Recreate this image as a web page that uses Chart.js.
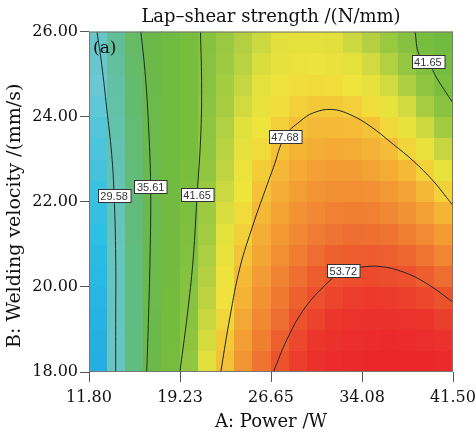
<!DOCTYPE html>
<html>
<head>
<meta charset="utf-8">
<script src="https://cdn.jsdelivr.net/npm/chart.js@4.4.1/dist/chart.umd.min.js"></script>
<style>
html, body { margin: 0; padding: 0; background: #fff; }
#wrap { width: 476px; height: 434px; }
</style>
</head>
<body>
<div id="wrap"><canvas id="chart"></canvas></div>
<script>
// axis ticks
const powerTicks = [11.80, 19.23, 26.65, 34.08, 41.50];
const velocityTicks = [18, 20, 22, 24, 26];

// heat map cell centres (A: power, B: velocity)
const powerCells = [12.54, 14.03, 15.51, 17.00, 18.48, 19.97, 21.45, 22.94, 24.43, 25.91,
                    27.40, 28.88, 30.37, 31.85, 33.34, 34.83, 36.31, 37.80, 39.28, 40.76];
const velocityCells = [18.25, 18.75, 19.25, 19.75, 20.25, 20.75, 21.25, 21.75,
                       22.25, 22.75, 23.25, 23.75, 24.25, 24.75, 25.25, 25.75];

// lap-shear strength, one row per velocity (bottom to top)
const strength = [
  [26.2,30.0,33.6,36.9,40.0,42.9,45.5,47.9,50.1,52.0,53.6,55.0,56.2,57.1,57.8,58.2,58.4,58.4,58.1,57.5],
  [26.3,30.0,33.6,36.8,39.9,42.7,45.2,47.5,49.6,51.4,53.0,54.3,55.4,56.2,56.8,57.2,57.3,57.2,56.8,56.2],
  [26.4,30.1,33.5,36.8,39.7,42.4,44.9,47.1,49.1,50.8,52.3,53.6,54.6,55.4,55.9,56.2,56.2,56.0,55.6,54.9],
  [26.6,30.2,33.5,36.7,39.5,42.2,44.6,46.7,48.6,50.3,51.7,52.9,53.8,54.5,55.0,55.2,55.1,54.8,54.3,53.6],
  [26.8,30.3,33.6,36.6,39.4,42.0,44.3,46.4,48.2,49.8,51.1,52.2,53.1,53.7,54.0,54.2,54.0,53.7,53.1,52.3],
  [26.9,30.4,33.6,36.6,39.3,41.8,44.0,46.0,47.7,49.2,50.5,51.5,52.3,52.9,53.1,53.2,53.0,52.6,51.9,51.0],
  [27.2,30.5,33.7,36.5,39.2,41.6,43.7,45.7,47.3,48.8,49.9,50.9,51.6,52.0,52.3,52.2,52.0,51.4,50.7,49.7],
  [27.4,30.7,33.7,36.5,39.1,41.4,43.5,45.3,46.9,48.3,49.4,50.3,50.9,51.3,51.4,51.3,50.9,50.3,49.5,48.4],
  [27.6,30.8,33.8,36.5,39.0,41.3,43.3,45.0,46.5,47.8,48.8,49.6,50.2,50.5,50.5,50.4,49.9,49.3,48.3,47.2],
  [27.9,31.0,33.9,36.5,38.9,41.1,43.0,44.7,46.2,47.4,48.3,49.0,49.5,49.7,49.7,49.4,48.9,48.2,47.2,46.0],
  [28.1,31.2,34.0,36.6,38.9,41.0,42.8,44.5,45.8,46.9,47.8,48.4,48.8,49.0,48.9,48.5,48.0,47.1,46.1,44.8],
  [28.4,31.4,34.1,36.6,38.9,40.9,42.7,44.2,45.5,46.5,47.3,47.9,48.2,48.2,48.1,47.7,47.0,46.1,45.0,43.6],
  [28.7,31.6,34.3,36.7,38.9,40.8,42.5,43.9,45.1,46.1,46.8,47.3,47.5,47.5,47.3,46.8,46.0,45.1,43.8,42.4],
  [29.0,31.8,34.4,36.8,38.9,40.7,42.3,43.7,44.8,45.7,46.4,46.8,46.9,46.8,46.5,45.9,45.1,44.1,42.8,41.2],
  [29.3,32.1,34.6,36.9,38.9,40.7,42.2,43.5,44.5,45.3,45.9,46.2,46.3,46.1,45.7,45.1,44.2,43.1,41.7,40.1],
  [29.7,32.4,34.8,37.0,38.9,40.6,42.1,43.3,44.3,45.0,45.5,45.7,45.7,45.5,45.0,44.3,43.3,42.1,40.6,39.0]
];

// contour lines [power, velocity]
const contour2958 = [[12.45,26],[12.84,25.22],[13.24,24.21],[13.65,23.12],[13.85,22.15],[13.98,20.70],[13.98,19.14],[13.98,18.0]];
const contour3561 = [[16.03,26],[16.37,25.06],[16.64,23.89],[16.83,22.36],[16.78,20.70],[16.64,19.14],[16.51,18.0]];
const contour4165a = [[20.90,26],[20.99,24.67],[20.91,23.50],[20.62,22.16],[20.31,20.70],[19.90,19.53],[19.22,18.0]];
const contour4768 = [[22.55,18.0],[23.30,19.29],[24.12,20.46],[25.21,21.48],[26.16,22.26],[26.84,22.80],[27.79,23.54],
                     [29.02,23.89],[30.10,24.09],[31.60,24.17],[33.10,24.05],[34.73,23.78],[36.63,23.35],[38.26,22.96],
                     [39.89,22.49],[40.98,22.10],[41.5,21.91]];
const contour5372 = [[26.84,18.0],[27.93,18.75],[29.28,19.45],[30.92,20.00],[32.55,20.38],[33.91,20.46],[35.54,20.48],
                     [37.44,20.35],[39.35,20.08],[41.5,19.64]];
const contour4165b = [[38.40,26],[38.73,25.46],[39.45,25.30],[40.17,24.91],[41.5,24.32]];

const contourLabels = ['29.58', '35.61', '41.65', '47.68', '53.72', '41.65'];
const labelAt = [4, 3, 3, 6, 4, 2];

// colour ramp: value -> rgb
const ramp = [
  [24, 45,115,195], [25.5, 35,160,220], [27, 40,190,230], [29, 105,200,210], [31, 100,195,180],
  [33, 95,188,140], [35.5, 105,186,85], [38, 110,185,65], [41, 120,190,62], [43, 145,198,65],
  [44.5, 185,210,66], [45.5, 225,224,61], [46.6, 240,228,60], [47.7, 245,195,55], [49.5, 243,160,52],
  [51.5, 240,125,50], [53.5, 236,85,45], [55.5, 236,52,44], [58, 234,40,42]
];

function colorFor(v) {
  if (v <= ramp[0][0]) return 'rgb(' + ramp[0].slice(1).join(',') + ')';
  for (let k = 1; k < ramp.length; k++) {
    if (v <= ramp[k][0]) {
      const a = ramp[k-1], b = ramp[k];
      const t = (v - a[0]) / (b[0] - a[0]);
      const c = [1,2,3].map(n => Math.round(a[n] + (b[n] - a[n]) * t));
      return 'rgb(' + c.join(',') + ')';
    }
  }
  return 'rgb(' + ramp[ramp.length-1].slice(1).join(',') + ')';
}

const serif = "'DejaVu Serif', serif";

const heatPlugin = {
  id: 'heat',
  beforeDatasetsDraw(chart) {
    const {ctx, chartArea: a, scales: {x, y}} = chart;
    ctx.save();
    ctx.beginPath();
    ctx.rect(a.left, a.top, a.width, a.height);
    ctx.clip();
    const nx = powerCells.length, ny = velocityCells.length;
    for (let j = 0; j < ny; j++) {
      const y0 = j == 0 ? y.min : (velocityCells[j-1] + velocityCells[j]) / 2;
      const y1 = j == ny-1 ? y.max : (velocityCells[j] + velocityCells[j+1]) / 2;
      const top = Math.floor(y.getPixelForValue(y1));
      const bot = Math.ceil(y.getPixelForValue(y0));
      for (let i = 0; i < nx; i++) {
        const x0 = i == 0 ? x.min : (powerCells[i-1] + powerCells[i]) / 2;
        const x1 = i == nx-1 ? x.max : (powerCells[i] + powerCells[i+1]) / 2;
        const l = Math.floor(x.getPixelForValue(x0));
        const r = Math.ceil(x.getPixelForValue(x1));
        ctx.fillStyle = colorFor(strength[j][i]);
        ctx.fillRect(l, top, r - l, bot - top);
      }
    }
    ctx.restore();
  },
  afterDatasetsDraw(chart) {
    const {ctx, chartArea: a} = chart;
    ctx.save();
    // contour labels
    ctx.font = "11px 'Liberation Sans', Arial, sans-serif";
    ctx.textAlign = 'center';
    ctx.textBaseline = 'middle';
    chart.data.datasets.forEach((ds, k) => {
      const pt = chart.getDatasetMeta(k).data[ds.labelAt];
      if (!pt) return;
      const w = ctx.measureText(ds.label).width + 5, h = 13;
      const bx = Math.round(pt.x - w / 2) + 0.5, by = Math.round(pt.y - h / 2) + 0.5;
      ctx.fillStyle = '#fff';
      ctx.fillRect(bx, by, w, h);
      ctx.strokeStyle = '#333';
      ctx.lineWidth = 1;
      ctx.strokeRect(bx, by, w, h);
      ctx.fillStyle = '#333';
      ctx.fillText(ds.label, pt.x, by + h / 2 + 0.5);
    });
    // frame
    ctx.strokeStyle = '#777';
    ctx.strokeRect(a.left + 0.5, a.top + 0.5, a.width - 1, a.height - 1);
    // panel tag
    ctx.font = '17px ' + serif;
    ctx.fillStyle = '#111';
    ctx.textAlign = 'left';
    ctx.textBaseline = 'alphabetic';
    ctx.fillText('(a)', a.left + 4, a.top + 21);
    // y axis title, a little below the axis centre as in the original
    ctx.font = '19px ' + serif;
    ctx.textAlign = 'center';
    ctx.textBaseline = 'middle';
    ctx.translate(15, (a.top + a.bottom) / 2 + 14);
    ctx.rotate(-Math.PI / 2);
    ctx.fillText('B: Welding velocity /(mm/s)', 0, 0);
    ctx.restore();
  }
};

const contours = [contour2958, contour3561, contour4165a, contour4768, contour5372, contour4165b];

const datasets = contours.map((c, k) => ({
  label: contourLabels[k],
  labelAt: labelAt[k],
  data: c.map(p => ({x: p[0], y: p[1]})),
  showLine: true,
  borderColor: '#1d2b2b',
  borderWidth: 1,
  pointRadius: 0,
  tension: 0.4,
  fill: false
}));

const tickFont = {family: serif, size: 16};

new Chart(document.getElementById('chart'), {
  type: 'scatter',
  data: {datasets: datasets},
  options: {
    responsive: true,
    maintainAspectRatio: false,
    animation: false,
    layout: {padding: {left: 0, right: 23, top: 0, bottom: 0}},
    plugins: {
      legend: {display: false},
      tooltip: {enabled: false},
      title: {
        display: true,
        text: 'Lap\u2013shear strength /(N/mm)',
        fullSize: false,
        color: '#111',
        font: {family: serif, size: 18, weight: 'normal'},
        padding: {top: 7, bottom: 3}
      }
    },
    scales: {
      x: {
        type: 'linear',
        min: 11.8,
        max: 41.5,
        afterBuildTicks: s => { s.ticks = powerTicks.map(v => ({value: v})); },
        afterFit: s => { s.height = 62; s.paddingLeft = 0; s.paddingRight = 0; },
        ticks: {
          callback: v => v.toFixed(2),
          font: tickFont,
          color: '#111',
          padding: 6,
          maxRotation: 0,
          autoSkip: false
        },
        grid: {drawOnChartArea: false, drawTicks: true, tickLength: 10, color: '#555'},
        border: {display: false},
        title: {display: true, text: 'A: Power /W', color: '#111', font: {family: serif, size: 18}, padding: {top: 0, bottom: 1}}
      },
      y: {
        type: 'linear',
        min: 18,
        max: 26,
        afterBuildTicks: s => { s.ticks = velocityTicks.map(v => ({value: v})); },
        afterFit: s => { s.width = 89; s.paddingTop = 0; s.paddingBottom = 0; },
        ticks: {
          callback: v => v.toFixed(2),
          font: tickFont,
          color: '#111',
          padding: 2
        },
        grid: {drawOnChartArea: false, drawTicks: true, tickLength: 9, color: '#555'},
        border: {display: false},
        title: {display: false}
      }
    }
  },
  plugins: [heatPlugin]
});
</script>
</body>
</html>
